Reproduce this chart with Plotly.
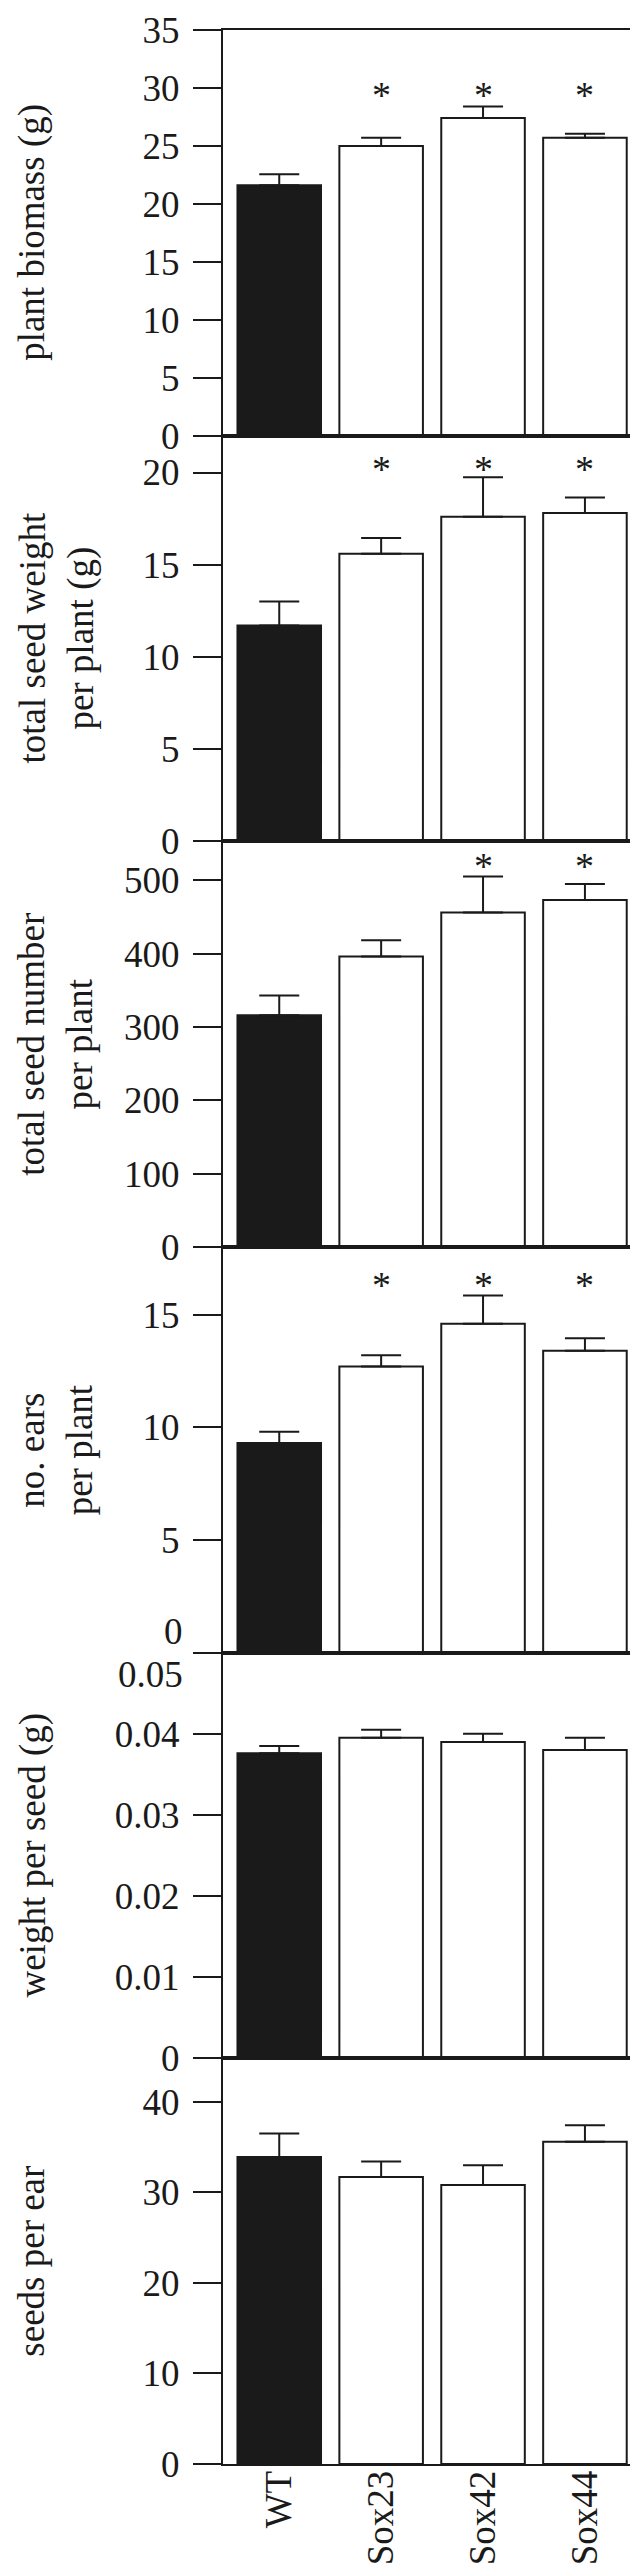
import plotly.graph_objects as go

# ---------------- data ----------------
genotypes = ["WT", "Sox23", "Sox42", "Sox44"]
bar_colors = ["#1a1a1a", "white", "white", "white"]

biomass = [21.6, 25.0, 27.4, 25.7]
biomass_err = [0.95, 0.7, 1.0, 0.35]
biomass_sig = ["", "*", "*", "*"]

seed_weight = [11.7, 15.6, 17.6, 17.8]
seed_weight_err = [1.3, 0.85, 2.15, 0.85]
seed_weight_sig = ["", "*", "*", "*"]

seed_number = [316, 396, 456, 473]
seed_number_err = [27, 22, 49, 22]
seed_number_sig = ["", "", "*", "*"]

ears = [9.3, 12.7, 14.6, 13.4]
ears_err = [0.5, 0.5, 1.25, 0.55]
ears_sig = ["", "*", "*", "*"]

weight_per_seed = [0.0376, 0.0395, 0.0390, 0.0380]
weight_per_seed_err = [0.0009, 0.0010, 0.0010, 0.0015]
weight_per_seed_sig = ["", "", "", ""]

seeds_per_ear = [33.9, 31.7, 30.8, 35.6]
seeds_per_ear_err = [2.6, 1.7, 2.2, 1.8]
seeds_per_ear_sig = ["", "", "", ""]

titles = ["plant biomass (g)",
          "total seed weight<br>per plant (g)",
          "total seed number<br>per plant",
          "no. ears<br>per plant",
          "weight per seed (g)",
          "seeds per ear"]

y_max = [35, 22, 553, 18, 0.05, 44.8]
y_ticks = [[0, 5, 10, 15, 20, 25, 30, 35],
           [0, 5, 10, 15, 20],
           [0, 100, 200, 300, 400, 500],
           [0, 5, 10, 15],
           [0, 0.01, 0.02, 0.03, 0.04, 0.05],
           [0, 10, 20, 30, 40]]
y_ticktext = [["0", "5", "10", "15", "20", "25", "30", "35"],
              ["0", "5", "10", "15", "20"],
              ["0", "100", "200", "300", "400", "500"],
              ["", "5", "10", "15"],            # "0" drawn separately (shifted up)
              ["0", "0.01", "0.02", "0.03", "0.04", ""],  # "0.05" drawn separately (shifted down)
              ["0", "10", "20", "30", "40"]]
sig_pos = [29.9, 20.5, 527, 16.56, None, None]

panels = [
    (biomass, biomass_err, biomass_sig),
    (seed_weight, seed_weight_err, seed_weight_sig),
    (seed_number, seed_number_err, seed_number_sig),
    (ears, ears_err, ears_sig),
    (weight_per_seed, weight_per_seed_err, weight_per_seed_sig),
    (seeds_per_ear, seeds_per_ear_err, seeds_per_ear_sig),
]

# ---------------- layout ----------------
W, H = 638, 2566
ML, MR, MT, MB = 215, 2, 20, 110
plot_w = W - ML - MR
FONT = "Liberation Serif, Times New Roman, serif"
INK = "#1a1a1a"
TICK_FS = 37

fig = go.Figure()
n = len(panels)
annotations = []
for i, (vals, errs, sigs) in enumerate(panels):
    k = i + 1
    xa = "x" if k == 1 else f"x{k}"
    ya = "y" if k == 1 else f"y{k}"
    fig.add_trace(go.Bar(
        x=genotypes, y=vals, xaxis=xa, yaxis=ya,
        width=0.82,
        marker=dict(color=bar_colors, line=dict(color=INK, width=2)),
        error_y=dict(type="data", symmetric=False, array=errs,
                     arrayminus=[0] * len(errs), color=INK,
                     thickness=2, width=20),
        showlegend=False,
    ))
    top = 1 - i / n
    bot = 1 - (i + 1) / n
    common_x = dict(domain=[0, 1], anchor=ya, range=[-0.552, 3.56],
                    showline=True, mirror=True, linecolor=INK, linewidth=2,
                    ticks="", showgrid=False, zeroline=False,
                    showticklabels=(k == n), tickangle=-90,
                    ticklabelstandoff=-10, ticklabeloverflow="allow",
                    tickfont=dict(family=FONT, size=TICK_FS, color=INK),
                    categoryorder="array", categoryarray=genotypes)
    if k != 1:
        common_x["matches"] = "x"
    common_y = dict(domain=[bot, top], anchor=xa, range=[0, y_max[i]],
                    showline=True, mirror=True, linecolor=INK, linewidth=2,
                    ticks="outside", ticklen=28, tickwidth=2, tickcolor=INK,
                    tickvals=y_ticks[i], ticktext=y_ticktext[i],
                    ticklabelstandoff=6, ticklabeloverflow="allow",
                    tickfont=dict(family=FONT, size=TICK_FS, color=INK),
                    showgrid=False, zeroline=False)
    fig.update_layout(**{("xaxis" if k == 1 else f"xaxis{k}"): common_x,
                         ("yaxis" if k == 1 else f"yaxis{k}"): common_y})
    # y title
    annotations.append(dict(
        text=titles[i], xref="paper", yref="paper",
        x=-ML / plot_w, y=(top + bot) / 2, xanchor="left", yanchor="middle",
        textangle=-90, showarrow=False,
        font=dict(family=FONT, size=37, color=INK)))
    # significance asterisks
    for g, s in zip(genotypes, sigs):
        if s:
            annotations.append(dict(
                text=s, x=g, y=sig_pos[i], xref=xa, yref=ya,
                xanchor="center", yanchor="middle", showarrow=False,
                font=dict(family=FONT, size=38, color=INK), yshift=-6))

# tick labels at the panel 4 / panel 5 boundary, nudged apart as in the figure
boundary = 1 - 4 / n
label_x = (176 - ML) / plot_w
annotations.append(dict(text="0", xref="paper", yref="paper", x=label_x,
                        y=boundary, xanchor="right", yanchor="bottom",
                        yshift=0, showarrow=False, borderpad=0,
                        font=dict(family=FONT, size=TICK_FS, color=INK)))
annotations.append(dict(text="0.05", xref="paper", yref="paper", x=label_x,
                        y=boundary, xanchor="right", yanchor="top",
                        yshift=0, showarrow=False, borderpad=0,
                        font=dict(family=FONT, size=TICK_FS, color=INK)))

fig.update_layout(
    width=W, height=H,
    margin=dict(l=ML, r=MR, t=MT, b=MB),
    paper_bgcolor="white", plot_bgcolor="white",
    bargap=0.18,
    annotations=annotations,
    font=dict(family=FONT, color=INK),
)

fig.write_html("out.html")
